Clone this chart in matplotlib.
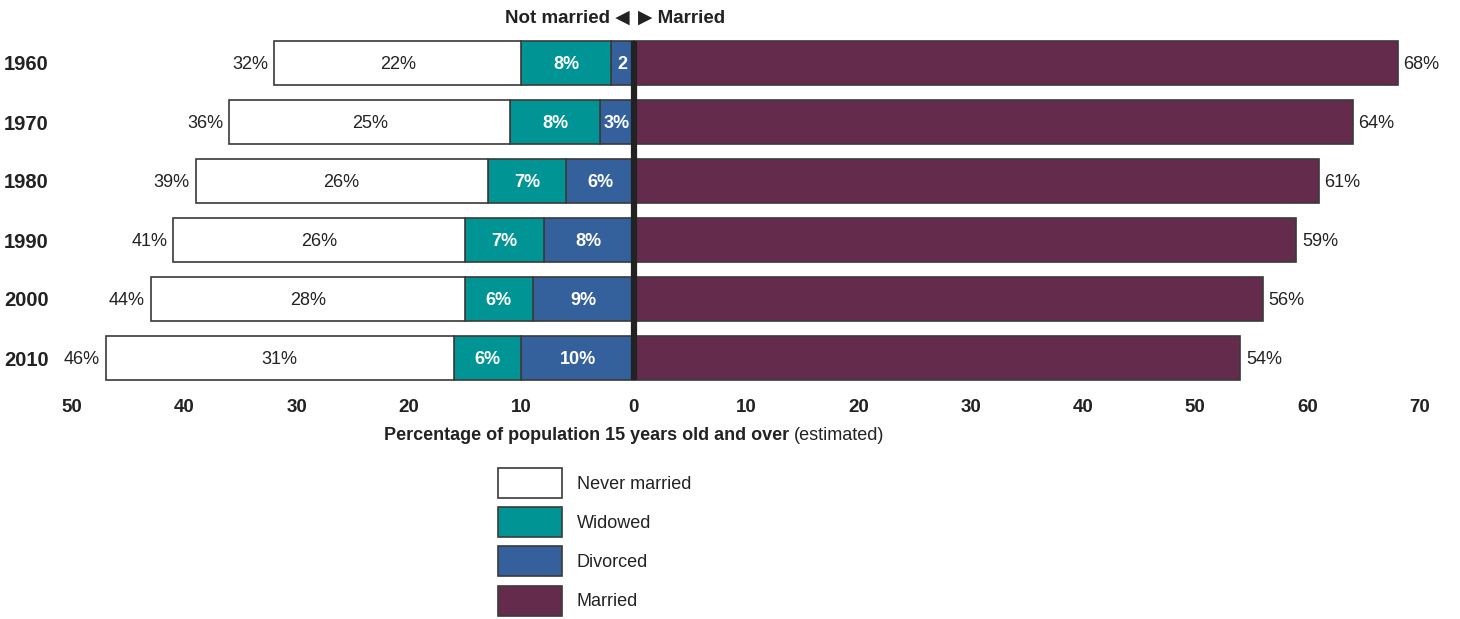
import matplotlib
matplotlib.use('Agg')
import matplotlib.pyplot as plt

# data
years = ['1960', '1970', '1980', '1990', '2000', '2010']
never_married = [22, 25, 26, 26, 28, 31]
widowed = [8, 8, 7, 7, 6, 6]
divorced = [2, 3, 6, 8, 9, 10]
married = [68, 64, 61, 59, 56, 54]
not_married_total = [32, 36, 39, 41, 44, 46]

c_white = '#ffffff'
c_teal = '#009494'
c_blue = '#34609c'
c_maroon = '#652b4c'
edge = '#3a3a3a'
txt = '#222222'

fam = ['Liberation Sans', 'DejaVu Sans']
plt.rcParams['font.family'] = fam

W, H = 1460, 619
fig = plt.figure(figsize=(W / 100, H / 100), dpi=100)
ax = fig.add_axes([72 / W, 1 - 387.5 / H, (1420 - 72) / W, 354 / H])

y = list(range(len(years)))
h = 0.73

left_div = [-d for d in divorced]
left_wid = [-(d + w) for d, w in zip(divorced, widowed)]
left_nev = [-(d + w + n) for d, w, n in zip(divorced, widowed, never_married)]

b_div = ax.barh(y, divorced, left=left_div, height=h, color=c_blue, edgecolor=edge, lw=1.2)
b_wid = ax.barh(y, widowed, left=left_wid, height=h, color=c_teal, edgecolor=edge, lw=1.2)
b_nev = ax.barh(y, never_married, left=left_nev, height=h, color=c_white, edgecolor=edge, lw=1.2)
b_mar = ax.barh(y, married, left=0, height=h, color=c_maroon, edgecolor=edge, lw=1.2)

for i in y:
    yy = i + 0.02
    ax.text(left_nev[i] + never_married[i] / 2, yy, f'{never_married[i]}%', ha='center', va='center',
            fontsize=13, color=txt)
    ax.text(left_wid[i] + widowed[i] / 2, yy, f'{widowed[i]}%', ha='center', va='center',
            fontsize=13, color='white', weight='bold')
    lab = f'{divorced[i]}%' if divorced[i] >= 3 else f'{divorced[i]}'
    ax.text(left_div[i] + divorced[i] / 2, yy, lab, ha='center', va='center',
            fontsize=13, color='white', weight='bold')
    ax.text(left_nev[i] - 0.5, yy, f'{not_married_total[i]}%', ha='right', va='center',
            fontsize=13, color=txt)
    ax.text(married[i] + 0.5, yy, f'{married[i]}%', ha='left', va='center',
            fontsize=13, color=txt)

ax.vlines(0, -0.38, len(years) - 1 + 0.38, color=txt, lw=4.5, zorder=5)

ax.set_xlim(-50, 70)
ax.set_ylim(len(years) - 0.5, -0.5)
ticks = list(range(-50, 71, 10))
ax.set_xticks(ticks)
ax.set_xticklabels([str(abs(t)) for t in ticks], fontsize=13.5, weight='bold', color=txt)
ax.set_yticks(y)
ax.set_yticklabels(years, fontsize=14.5, weight='bold', color=txt)
ax.tick_params(axis='both', length=0)
ax.tick_params(axis='x', pad=8)
for lbl in ax.get_yticklabels():
    lbl.set_horizontalalignment('left')
    lbl.set_x(-63 / 1348)
for s in ax.spines.values():
    s.set_visible(False)

# x axis title: bold part followed by normal part, centred under 0
fig.canvas.draw()
r = fig.canvas.get_renderer()
t1 = fig.text(0, 1 - 436 / H, 'Percentage of population 15 years old and over',
              ha='left', va='center', fontsize=13, weight='bold', color=txt)
t2 = fig.text(0, 1 - 436 / H, '(estimated)', ha='left', va='center', fontsize=13, color=txt)
w1 = t1.get_window_extent(r).width
w2 = t2.get_window_extent(r).width
gap = 5
x0 = 634 - (w1 + gap + w2) / 2
t1.set_x(x0 / W)
t2.set_x((x0 + w1 + gap) / W)

# header arrows
fig.text(630 / W, 1 - 18 / H, 'Not married \u25c0', ha='right', va='center',
         fontsize=13.5, weight='bold', color=txt)
fig.text(638 / W, 1 - 18 / H, '\u25b6 Married', ha='left', va='center',
         fontsize=13.5, weight='bold', color=txt)

leg = fig.legend(handles=[b_nev, b_wid, b_div, b_mar],
                 labels=['Never married', 'Widowed', 'Divorced', 'Married'],
                 loc='upper left', bbox_to_anchor=(493 / W, 1 - 463 / H),
                 frameon=False, fontsize=13, handlelength=3.5, handleheight=2.18,
                 labelspacing=0.5, handletextpad=0.83, borderaxespad=0, borderpad=0.3)
for t in leg.get_texts():
    t.set_color(txt)

fig.savefig('out.png', dpi=100)
